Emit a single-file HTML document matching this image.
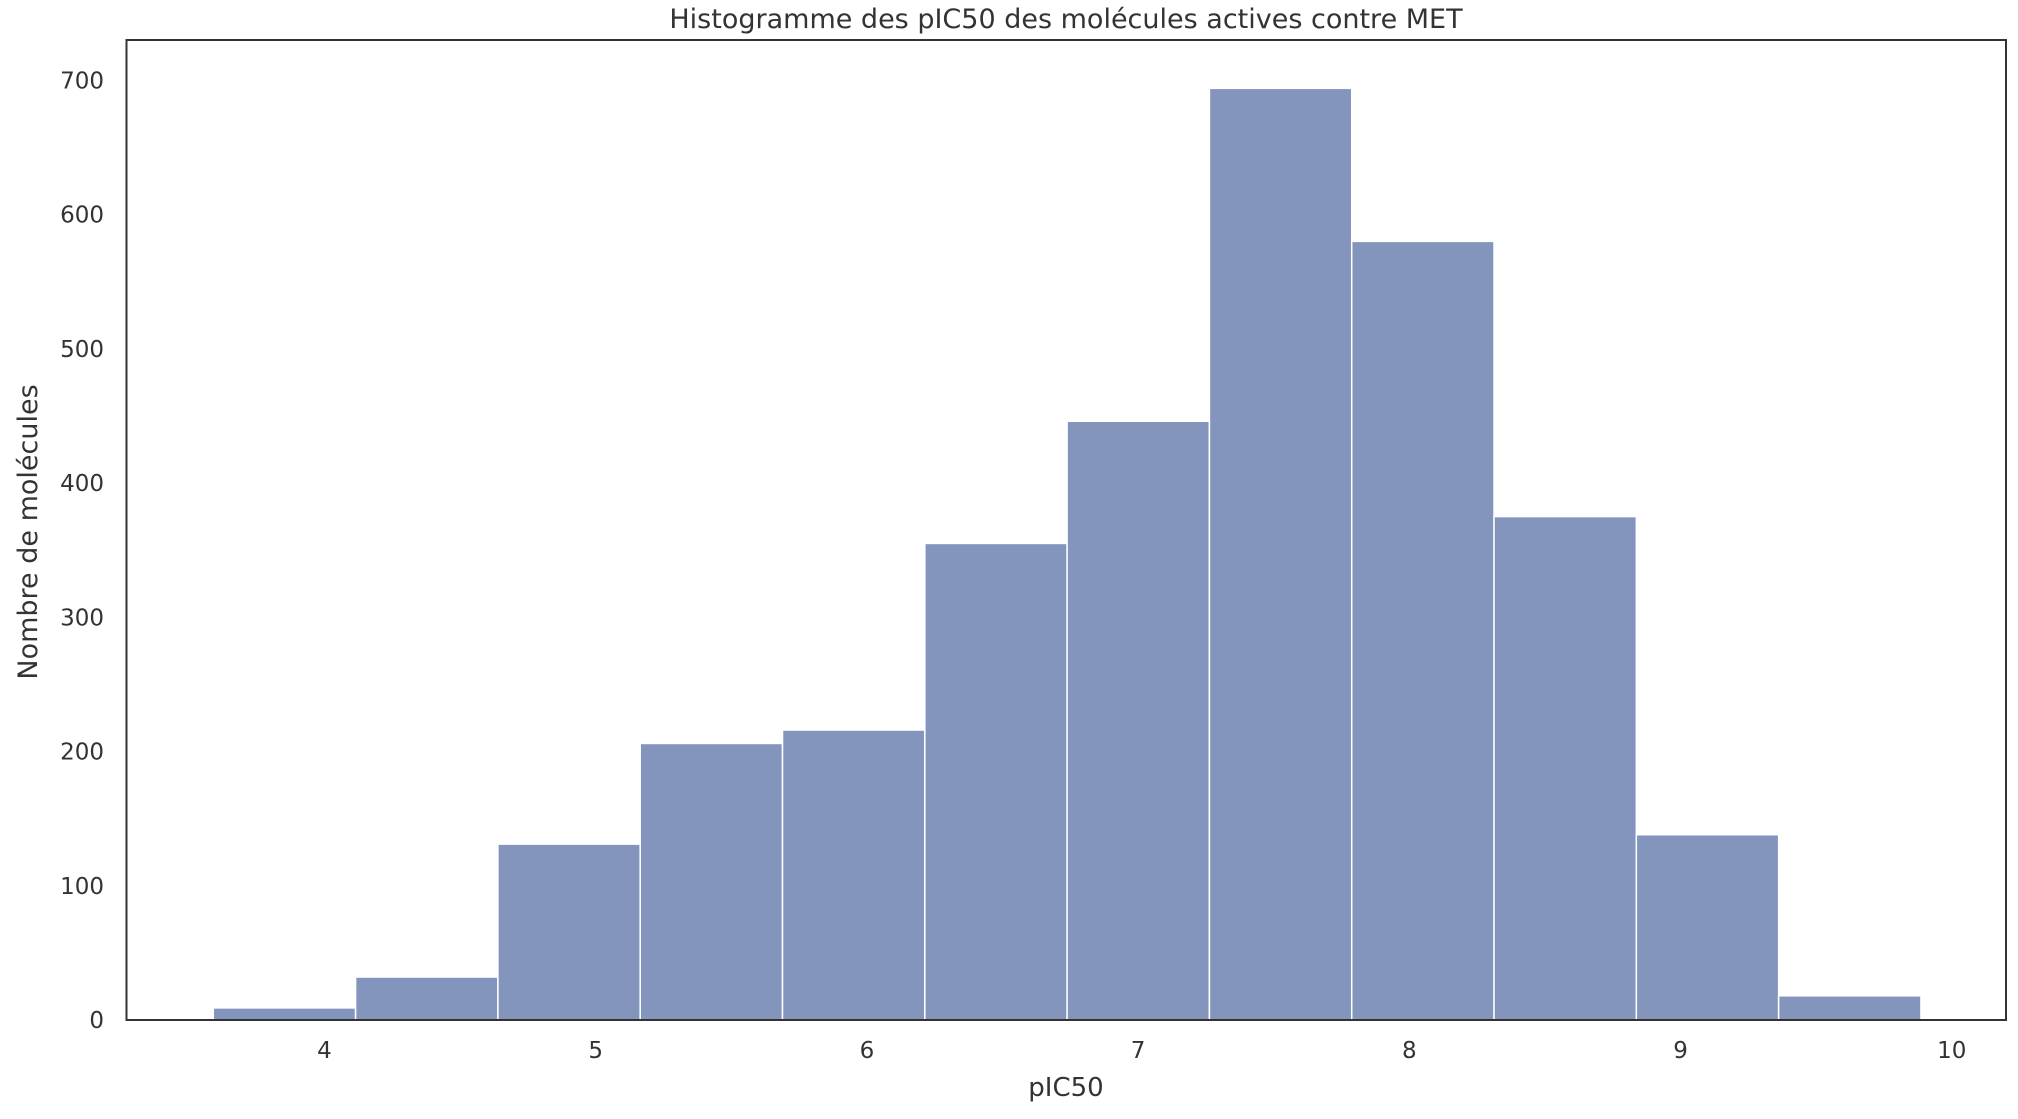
<!DOCTYPE html>
<html><head><meta charset="utf-8"><style>
body{margin:0;background:#fff;}
svg text{font-family:"DejaVu Sans","Liberation Sans",sans-serif;fill:#333;}
</style></head><body>
<svg id="chart" width="2018" height="1114"></svg>
<script>
const binEdgesStart = 3.59;
const binWidth = 0.5247;
const counts = [9, 32, 131, 206, 216, 355, 446, 694, 580, 375, 138, 18];
const xTicks = [4, 5, 6, 7, 8, 9, 10];
const yTicks = [0, 100, 200, 300, 400, 500, 600, 700];

const L = 126.5, R = 2006, T = 40, B = 1020;
const xMin = 3.27, xMax = 10.2;
const yMax = 730;
function xs(v){ return L + (v - xMin) / (xMax - xMin) * (R - L); }
function ys(v){ return B - v / yMax * (B - T); }

const NS = "http://www.w3.org/2000/svg";
const svg = document.getElementById('chart');
function mk(tag, attrs){ const e = document.createElementNS(NS, tag); for (const k in attrs) e.setAttribute(k, attrs[k]); svg.appendChild(e); return e; }

counts.forEach((c, i) => {
  const x0 = xs(binEdgesStart + i * binWidth), x1 = xs(binEdgesStart + (i + 1) * binWidth);
  const r = mk('rect', {x: x0, y: ys(c), width: x1 - x0, height: ys(0) - ys(c), fill: '#8395bd', stroke: '#fff', 'stroke-width': 1.5});
  
  
});

const frame = mk('rect', {x: L, y: T, width: R - L, height: B - T, fill: 'none', stroke: '#333', 'stroke-width': 2});



xTicks.forEach(v => {
  const t = mk('text', {x: xs(v), y: 1058, 'font-size': 23, 'text-anchor': 'middle'});
  t.textContent = v;
  
  
});
yTicks.forEach(v => {
  const t = mk('text', {x: 104, y: ys(v) + 8, 'font-size': 23, 'text-anchor': 'end'});
  t.textContent = v;
  
  
});

const title = mk('text', {x: 1066, y: 28, 'font-size': 27, 'text-anchor': 'middle'});
title.textContent = 'Histogramme des pIC50 des molécules actives contre MET';



const xl = mk('text', {x: 1066, y: 1096, 'font-size': 26, 'text-anchor': 'middle'});
xl.textContent = 'pIC50';



const yl = mk('text', {x: 0, y: 0, 'font-size': 27, 'text-anchor': 'middle', transform: 'translate(37,532) rotate(-90)'});
yl.textContent = 'Nombre de molécules';


</script>
</body></html>
